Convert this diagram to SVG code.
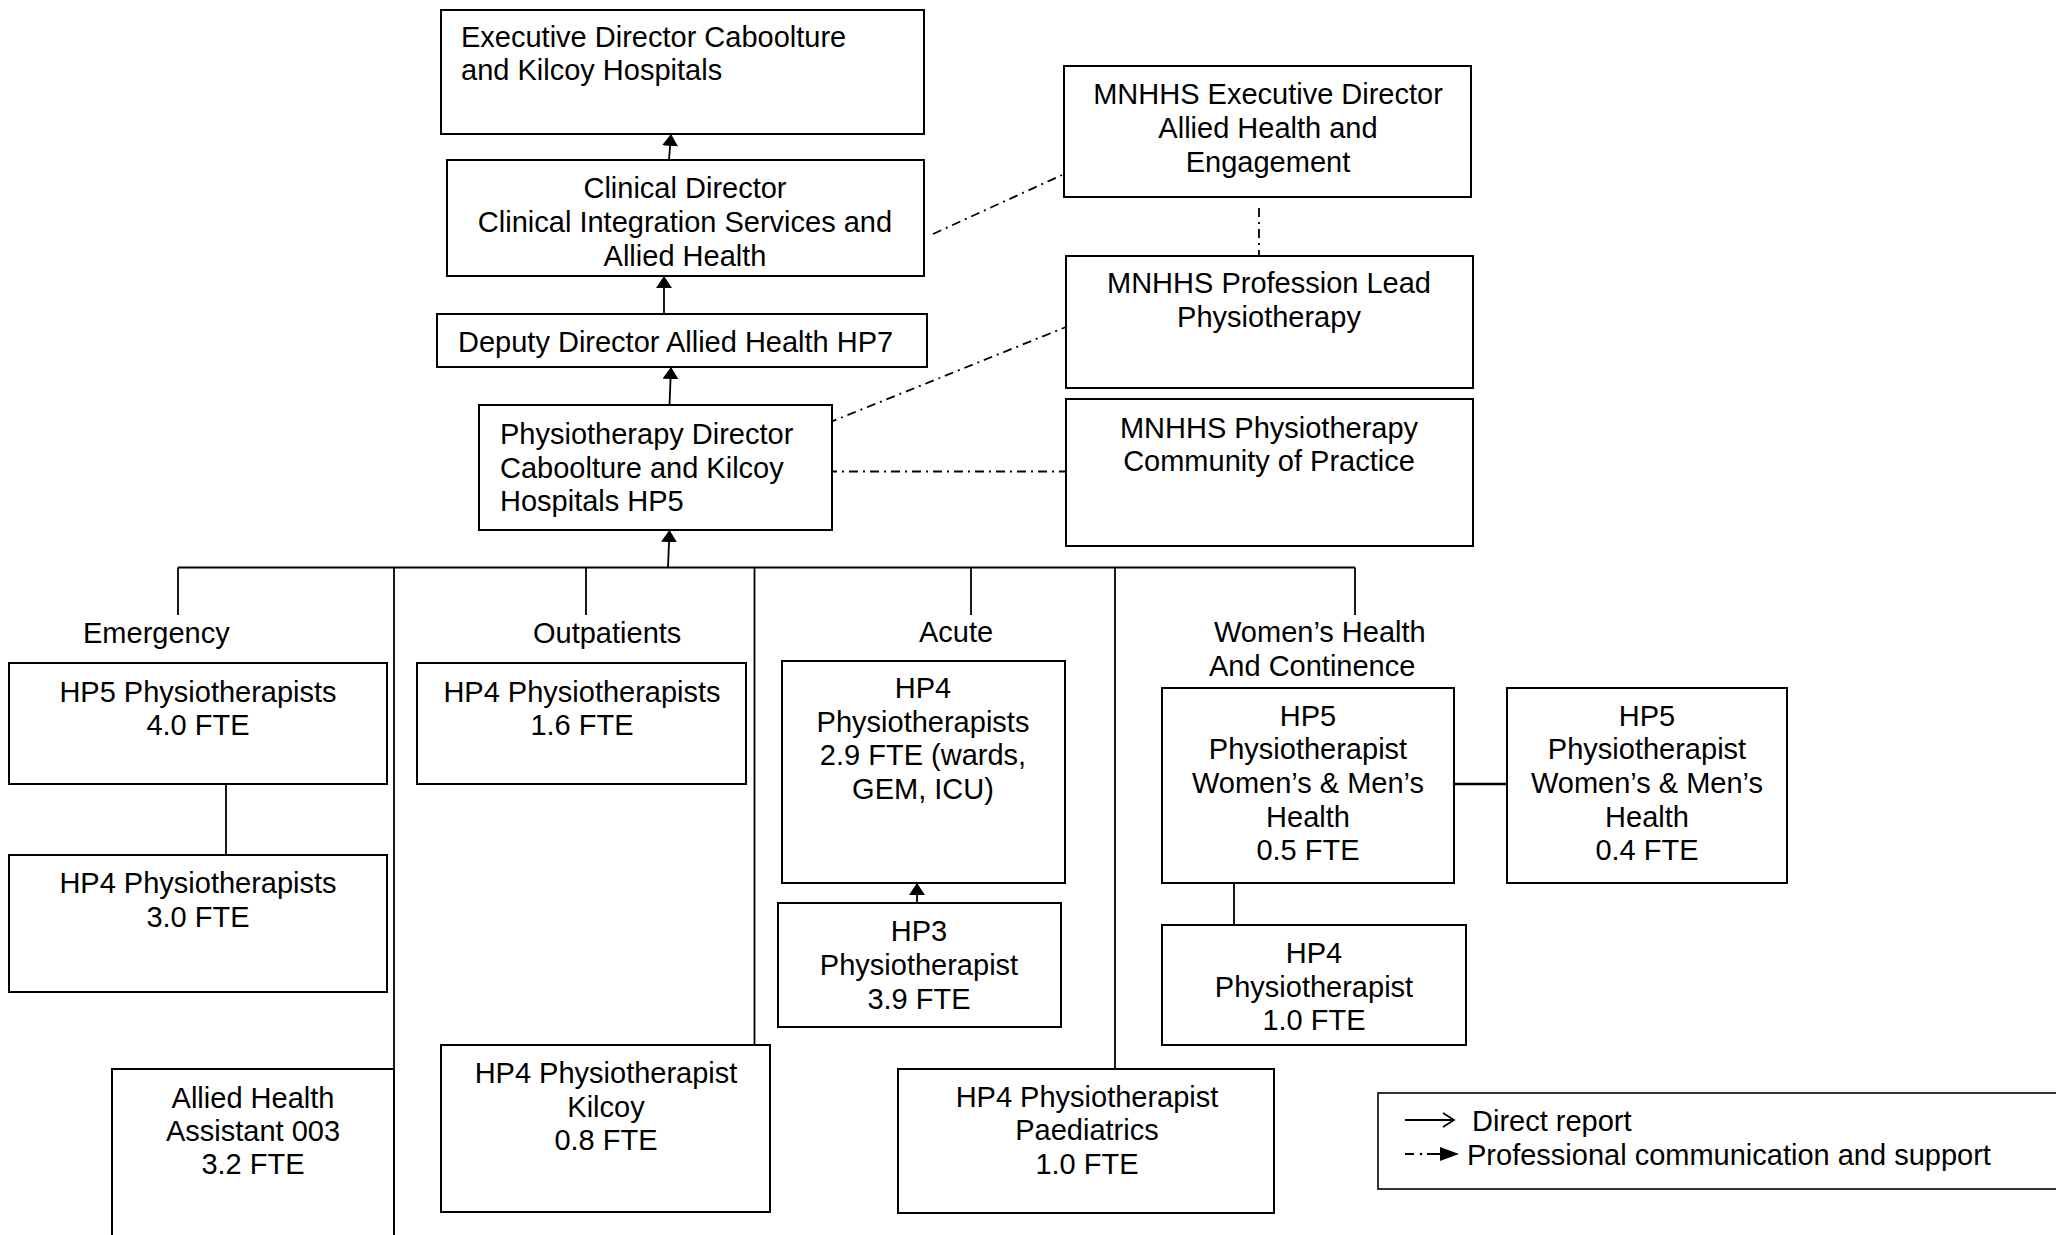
<svg xmlns="http://www.w3.org/2000/svg" width="2056" height="1235" viewBox="0 0 2056 1235">
<style>
  .box { fill: #ffffff; stroke: #000000; stroke-width: 2; }
  .t { font-family: "Liberation Sans", Arial, sans-serif; font-size: 29px; fill: #000000; }
  .c { text-anchor: middle; }
  .ln { stroke: #000000; stroke-width: 1.8; fill: none; }
  .dd { stroke: #000000; stroke-width: 1.8; fill: none; stroke-dasharray: 9 5 2 5; }
</style>
<defs>
  <marker id="ah" markerUnits="userSpaceOnUse" markerWidth="14" markerHeight="18" refX="12" refY="8" orient="auto">
    <path d="M0,0 L12,8 L0,16 z" fill="#000000"/>
  </marker>
</defs>
<rect width="2056" height="1235" fill="#ffffff"/>

<g id="connectors">
  <line class="ln" x1="669" y1="160" x2="671" y2="134" marker-end="url(#ah)"/>
  <line class="ln" x1="664" y1="314" x2="664" y2="276" marker-end="url(#ah)"/>
  <line class="ln" x1="669.5" y1="405" x2="671" y2="367" marker-end="url(#ah)"/>
  <line class="ln" x1="668" y1="567.5" x2="669.5" y2="530" marker-end="url(#ah)"/>
  <line class="ln" x1="178" y1="567.5" x2="1355" y2="567.5"/>
  <line class="ln" x1="178" y1="567.5" x2="178" y2="615"/>
  <line class="ln" x1="394" y1="567.5" x2="394" y2="1235"/>
  <line class="ln" x1="586" y1="567.5" x2="586" y2="615"/>
  <line class="ln" x1="754.5" y1="567.5" x2="754.5" y2="1047"/>
  <line class="ln" x1="971" y1="567.5" x2="971" y2="615"/>
  <line class="ln" x1="1115" y1="567.5" x2="1115" y2="1071"/>
  <line class="ln" x1="1355" y1="567.5" x2="1355" y2="615"/>
  <line class="ln" x1="226" y1="784" x2="226" y2="855"/>
  <line class="ln" x1="917" y1="903" x2="917" y2="883" marker-end="url(#ah)"/>
  <line class="ln" x1="1454" y1="784" x2="1507" y2="784" style="stroke-width:2.6"/>
  <line class="ln" x1="1234" y1="878" x2="1234" y2="925"/>
  <line class="dd" x1="933" y1="234" x2="1062" y2="175"/>
  <line class="dd" x1="828" y1="423" x2="1066" y2="327"/>
  <line class="dd" x1="828" y1="471.5" x2="1065" y2="471.5"/>
  <line class="dd" x1="1259" y1="208" x2="1259" y2="255"/>
</g>

<g id="exec-director">
  <rect class="box" x="441" y="10" width="483" height="124"/>
  <text class="t" x="461" y="47">Executive Director Caboolture</text>
  <text class="t" x="461" y="80">and Kilcoy Hospitals</text>
</g>
<g id="clinical-director">
  <rect class="box" x="447" y="160" width="477" height="116"/>
  <text class="t c" x="685" y="198">Clinical Director</text>
  <text class="t c" x="685" y="232">Clinical Integration Services and</text>
  <text class="t c" x="685" y="266">Allied Health</text>
</g>
<g id="deputy-director">
  <rect class="box" x="437" y="314" width="490" height="53"/>
  <text class="t" x="458" y="352">Deputy Director Allied Health HP7</text>
</g>
<g id="physio-director">
  <rect class="box" x="479" y="405" width="353" height="125"/>
  <text class="t" x="500" y="444">Physiotherapy Director</text>
  <text class="t" x="500" y="478">Caboolture and Kilcoy</text>
  <text class="t" x="500" y="511">Hospitals HP5</text>
</g>
<g id="mnhhs-exec">
  <rect class="box" x="1064" y="66" width="407" height="131"/>
  <text class="t c" x="1268" y="104">MNHHS Executive Director</text>
  <text class="t c" x="1268" y="138">Allied Health and</text>
  <text class="t c" x="1268" y="172">Engagement</text>
</g>
<g id="profession-lead">
  <rect class="box" x="1066" y="256" width="407" height="132"/>
  <text class="t c" x="1269" y="293">MNHHS Profession Lead</text>
  <text class="t c" x="1269" y="327">Physiotherapy</text>
</g>
<g id="community-practice">
  <rect class="box" x="1066" y="399" width="407" height="147"/>
  <text class="t c" x="1269" y="438">MNHHS Physiotherapy</text>
  <text class="t c" x="1269" y="471">Community of Practice</text>
</g>

<g id="labels">
  <text class="t" x="83" y="643">Emergency</text>
  <text class="t" x="533" y="643">Outpatients</text>
  <text class="t" x="919" y="642">Acute</text>
  <text class="t" x="1214" y="642">Women’s Health</text>
  <text class="t" x="1209" y="676">And Continence</text>
</g>

<g id="em-hp5">
  <rect class="box" x="9" y="663" width="378" height="121"/>
  <text class="t c" x="198" y="702">HP5 Physiotherapists</text>
  <text class="t c" x="198" y="735">4.0 FTE</text>
</g>
<g id="em-hp4">
  <rect class="box" x="9" y="855" width="378" height="137"/>
  <text class="t c" x="198" y="893">HP4 Physiotherapists</text>
  <text class="t c" x="198" y="927">3.0 FTE</text>
</g>
<g id="op-hp4">
  <rect class="box" x="417" y="663" width="329" height="121"/>
  <text class="t c" x="582" y="702">HP4 Physiotherapists</text>
  <text class="t c" x="582" y="735">1.6 FTE</text>
</g>
<g id="acute-hp4">
  <rect class="box" x="782" y="661" width="283" height="222"/>
  <text class="t c" x="923" y="698">HP4</text>
  <text class="t c" x="923" y="732">Physiotherapists</text>
  <text class="t c" x="923" y="765">2.9 FTE (wards,</text>
  <text class="t c" x="923" y="799">GEM, ICU)</text>
</g>
<g id="acute-hp3">
  <rect class="box" x="778" y="903" width="283" height="124"/>
  <text class="t c" x="919" y="941">HP3</text>
  <text class="t c" x="919" y="975">Physiotherapist</text>
  <text class="t c" x="919" y="1009">3.9 FTE</text>
</g>
<g id="wh-hp5-a">
  <rect class="box" x="1162" y="688" width="292" height="195"/>
  <text class="t c" x="1308" y="726">HP5</text>
  <text class="t c" x="1308" y="759">Physiotherapist</text>
  <text class="t c" x="1308" y="793">Women’s &amp; Men’s</text>
  <text class="t c" x="1308" y="827">Health</text>
  <text class="t c" x="1308" y="860">0.5 FTE</text>
</g>
<g id="wh-hp5-b">
  <rect class="box" x="1507" y="688" width="280" height="195"/>
  <text class="t c" x="1647" y="726">HP5</text>
  <text class="t c" x="1647" y="759">Physiotherapist</text>
  <text class="t c" x="1647" y="793">Women’s &amp; Men’s</text>
  <text class="t c" x="1647" y="827">Health</text>
  <text class="t c" x="1647" y="860">0.4 FTE</text>
</g>
<g id="wh-hp4">
  <rect class="box" x="1162" y="925" width="304" height="120"/>
  <text class="t c" x="1314" y="963">HP4</text>
  <text class="t c" x="1314" y="997">Physiotherapist</text>
  <text class="t c" x="1314" y="1030">1.0 FTE</text>
</g>
<g id="aha">
  <rect class="box" x="112" y="1069" width="282" height="180"/>
  <text class="t c" x="253" y="1108">Allied Health</text>
  <text class="t c" x="253" y="1141">Assistant 003</text>
  <text class="t c" x="253" y="1174">3.2 FTE</text>
</g>
<g id="kilcoy">
  <rect class="box" x="441" y="1045" width="329" height="167"/>
  <text class="t c" x="606" y="1083">HP4 Physiotherapist</text>
  <text class="t c" x="606" y="1117">Kilcoy</text>
  <text class="t c" x="606" y="1150">0.8 FTE</text>
</g>
<g id="paediatrics">
  <rect class="box" x="898" y="1069" width="376" height="144"/>
  <text class="t c" x="1087" y="1107">HP4 Physiotherapist</text>
  <text class="t c" x="1087" y="1140">Paediatrics</text>
  <text class="t c" x="1087" y="1174">1.0 FTE</text>
</g>

<g id="legend">
  <rect class="box" x="1378" y="1093" width="690" height="96" style="stroke-width:1.6"/>
  <line class="ln" x1="1405" y1="1120" x2="1454" y2="1120"/>
  <polyline class="ln" points="1443,1113 1454,1120 1443,1127"/>
  <text class="t" x="1472" y="1131">Direct report</text>
  <line class="ln" x1="1405" y1="1154" x2="1414" y2="1154" style="stroke-width:2"/>
  <circle cx="1421" cy="1154" r="1.3" fill="#000000"/>
  <line class="ln" x1="1427" y1="1154" x2="1442" y2="1154" style="stroke-width:2"/>
  <path d="M1440,1147 L1459,1154 L1440,1161 z" fill="#000000"/>
  <text class="t" x="1467" y="1165">Professional communication and support</text>
</g>
</svg>
